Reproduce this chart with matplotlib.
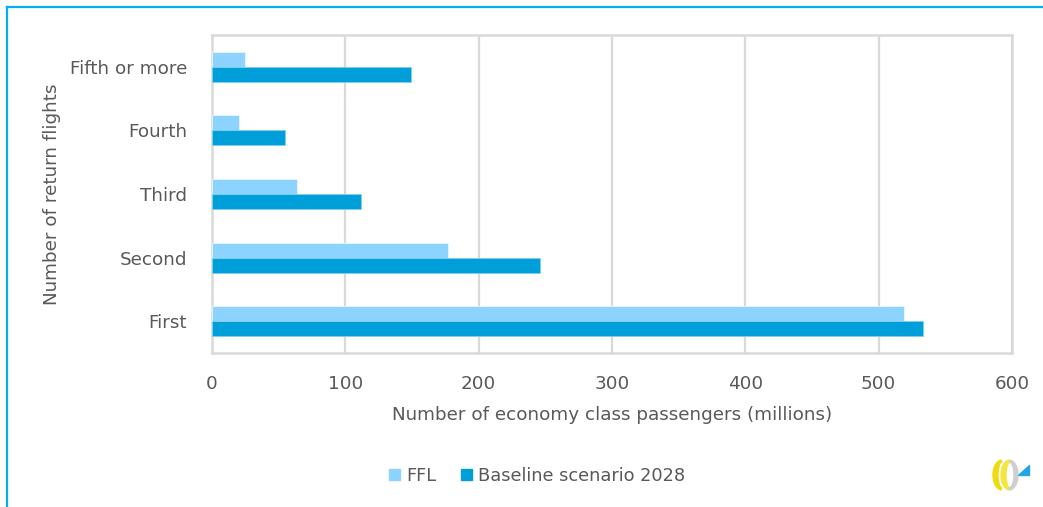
import numpy as np
import matplotlib
matplotlib.use("Agg")
import matplotlib.pyplot as plt
from matplotlib.patches import Rectangle, Polygon
from matplotlib.lines import Line2D

# Economy class passengers (millions) by return flight number
categories = ["First", "Second", "Third", "Fourth", "Fifth or more"]
ffl = [519, 177, 64, 20, 25]
baseline = [533, 246, 112, 55, 149]

C_FFL = "#8dd3ff"
C_BASE = "#009fd9"
C_TEXT = "#595959"
C_GRID = "#d9d9d9"
C_FRAME = "#00b0f0"
FS = 13.2

plt.rcParams["font.family"] = ["DejaVu Sans"]

W, H = 1043, 507
fig = plt.figure(figsize=(W / 100, H / 100), dpi=100)

# plot area in pixels: x 212..1012, y 35..353
ax = fig.add_axes([212 / W, 1 - 353 / H, 800 / W, 318 / H])

y = np.arange(len(categories))
h = 0.236
ax.barh(y + h / 2, ffl, height=h, color=C_FFL, edgecolor="#e8f6ff", lw=0.6,
        label="FFL", zorder=3)
ax.barh(y - h / 2, baseline, height=h, color=C_BASE, edgecolor="#7fd0f0", lw=0.6,
        label="Baseline scenario 2028", zorder=3)

ax.set_xlim(0, 600)
ax.set_ylim(-0.5, 4.5)
ax.set_xticks(range(0, 601, 100))
ax.set_yticks(y)
ax.set_yticklabels(categories)
ax.tick_params(length=0, labelsize=FS, colors=C_TEXT)
ax.tick_params(axis="x", pad=16)
ax.tick_params(axis="y", pad=18)
ax.grid(axis="x", color=C_GRID, lw=1.6, zorder=0)
for s in ax.spines.values():
    s.set_color(C_GRID)
    s.set_linewidth(1.8)

ax.set_xlabel("Number of economy class passengers (millions)", fontsize=FS,
              color=C_TEXT, labelpad=9)
ax.set_ylabel("Number of return flights", fontsize=FS, color=C_TEXT,
              labelpad=6)

handles = [Rectangle((0, 0), 1, 1, color=C_FFL), Rectangle((0, 0), 1, 1, color=C_BASE)]
fig.legend(handles, ["FFL", "Baseline scenario 2028"], loc="center",
           bbox_to_anchor=(537 / W, 1 - 476 / H), ncol=2, frameon=False,
           fontsize=12.8, labelcolor=C_TEXT, handlelength=0.6, handleheight=0.6,
           handletextpad=0.35, columnspacing=1.4)

# outer frame: top and left edges
fig.add_artist(Line2D([6.5 / W, 1], [1 - 6.5 / H] * 2, color=C_FRAME, lw=1.6))
fig.add_artist(Line2D([6.5 / W] * 2, [0, 1 - 6.5 / H], color=C_FRAME, lw=1.6))


def ring(cx, cy, rx, ry, wx, wy, t0, t1, n=60):
    t = np.radians(np.linspace(t0, t1, n))
    outer = np.c_[cx + rx * np.cos(t), cy + ry * np.sin(t)]
    inner = np.c_[cx + (rx - wx) * np.cos(t[::-1]), cy + (ry - wy) * np.sin(t[::-1])]
    return np.vstack([outer, inner])


# small logo, bottom right (pixel units, y up)
lg = fig.add_axes([985 / W, 1 - 495 / H, 50 / W, 40 / H])
lg.set_xlim(0, 50)
lg.set_ylim(0, 40)
lg.axis("off")
lg.add_patch(Polygon(ring(17, 20, 9, 15, 5, 2, 95, 265), color="#eedc10"))
lg.add_patch(Polygon(ring(25, 20, 9, 15, 5, 2, 95, 265), color="#f4e640"))
lg.add_patch(Polygon(ring(24, 20, 9, 15, 4, 2, 275, 440), color="#cfcfcf"))
lg.add_patch(Polygon([[33, 20], [44, 20], [44, 30]], color="#1fa6e6"))

fig.savefig("out.png", dpi=100)
